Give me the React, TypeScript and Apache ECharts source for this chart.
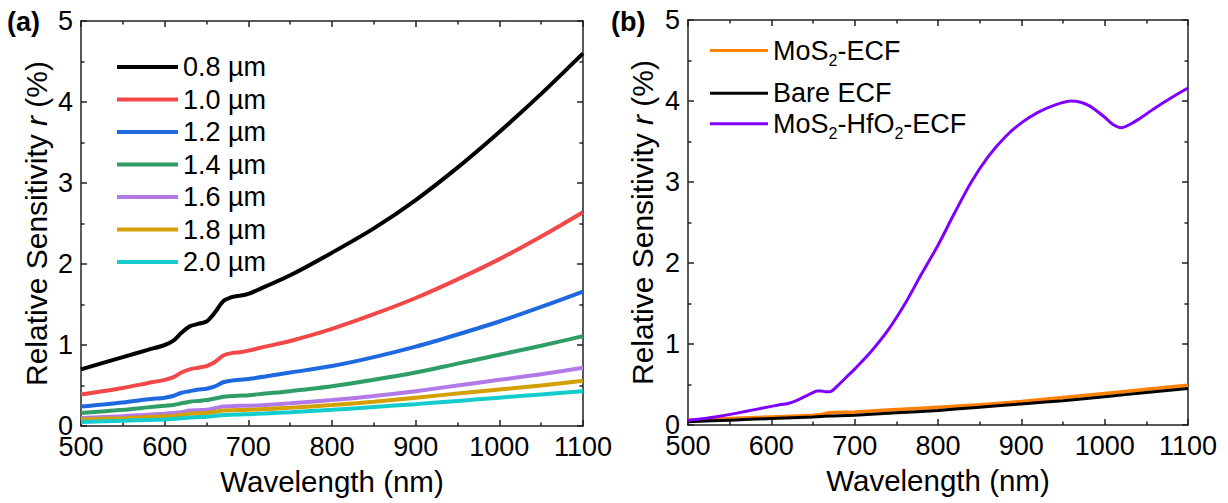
import React, { useEffect, useRef } from 'react';
import * as echarts from 'echarts';

const FONT = '"Liberation Sans", Arial, Helvetica, sans-serif';

// Panel (a): fiber diameter sweep
const wavelengthsA = [500, 550, 580, 600, 610, 620, 630, 640, 650, 660, 670, 680, 690, 700, 720, 750, 800, 850, 900, 950, 1000, 1050, 1100];
const namesA = ['0.8 µm', '1.0 µm', '1.2 µm', '1.4 µm', '1.6 µm', '1.8 µm', '2.0 µm'];
const d08 = [0.70, 0.85, 0.94, 1.00, 1.05, 1.15, 1.23, 1.26, 1.29, 1.40, 1.54, 1.59, 1.61, 1.63, 1.72, 1.86, 2.14, 2.44, 2.79, 3.19, 3.63, 4.10, 4.60];
const d10 = [0.39, 0.47, 0.53, 0.57, 0.60, 0.66, 0.70, 0.72, 0.74, 0.79, 0.87, 0.90, 0.91, 0.93, 0.98, 1.05, 1.20, 1.38, 1.58, 1.81, 2.06, 2.34, 2.64];
const d12 = [0.24, 0.29, 0.33, 0.35, 0.37, 0.41, 0.43, 0.45, 0.46, 0.49, 0.54, 0.56, 0.57, 0.58, 0.61, 0.66, 0.74, 0.85, 0.98, 1.13, 1.29, 1.47, 1.66];
const d14 = [0.16, 0.20, 0.23, 0.25, 0.26, 0.28, 0.30, 0.31, 0.32, 0.34, 0.36, 0.37, 0.375, 0.38, 0.40, 0.43, 0.49, 0.57, 0.66, 0.77, 0.88, 0.99, 1.11];
const d16 = [0.10, 0.12, 0.14, 0.15, 0.16, 0.17, 0.19, 0.195, 0.20, 0.22, 0.24, 0.245, 0.25, 0.25, 0.26, 0.28, 0.32, 0.37, 0.43, 0.50, 0.57, 0.64, 0.72];
const d18 = [0.08, 0.095, 0.11, 0.12, 0.125, 0.135, 0.15, 0.155, 0.16, 0.175, 0.19, 0.195, 0.198, 0.20, 0.21, 0.225, 0.26, 0.30, 0.35, 0.40, 0.45, 0.50, 0.56];
const d20 = [0.05, 0.065, 0.075, 0.08, 0.085, 0.095, 0.105, 0.11, 0.115, 0.125, 0.135, 0.14, 0.143, 0.145, 0.155, 0.17, 0.20, 0.235, 0.27, 0.31, 0.35, 0.39, 0.43];
const valuesA = [d08, d10, d12, d14, d16, d18, d20];
const colorsA = ['#000000', '#F24848', '#1F69E0', '#2E9E66', '#B27AE6', '#D4A000', '#14CCCC'];

// Panel (b): coatings
const wavelengthsB = [500, 520, 540, 560, 580, 600, 610, 620, 630, 640, 650, 655, 660, 665, 670, 680, 690, 700, 720, 740, 760, 780, 800, 820, 840, 860, 880, 900, 920, 940, 960, 980, 1000, 1010, 1020, 1030, 1040, 1060, 1080, 1100];
const mos2Hfo2 = [0.06, 0.08, 0.11, 0.15, 0.19, 0.23, 0.25, 0.265, 0.30, 0.35, 0.40, 0.42, 0.42, 0.41, 0.41, 0.49, 0.59, 0.69, 0.91, 1.17, 1.49, 1.86, 2.22, 2.62, 3.00, 3.31, 3.55, 3.73, 3.86, 3.95, 4.00, 3.95, 3.80, 3.71, 3.67, 3.71, 3.77, 3.91, 4.04, 4.16];
const wavelengthsB2 = [500, 550, 600, 650, 660, 670, 700, 750, 800, 850, 900, 950, 1000, 1050, 1100];
const mos2 = [0.06, 0.08, 0.10, 0.12, 0.13, 0.15, 0.16, 0.19, 0.22, 0.25, 0.29, 0.34, 0.39, 0.44, 0.49];
const bare = [0.04, 0.06, 0.08, 0.10, 0.105, 0.11, 0.12, 0.15, 0.18, 0.22, 0.26, 0.30, 0.35, 0.40, 0.45];
const namesB = ['MoS2-ECF', 'Bare ECF', 'MoS2-HfO2-ECF'];
const richNamesB: Record<string, string> = {
  'MoS2-ECF': '{n|MoS}{s|2}{n|-ECF}',
  'Bare ECF': '{n|Bare ECF}',
  'MoS2-HfO2-ECF': '{n|MoS}{s|2}{n|-HfO}{s|2}{n|-ECF}',
};
const colorsB = ['#FF8000', '#000000', '#8000FF'];
const legendCentersB = [55, 97.7, 128.3];

const AX = '#222';

function xAxes(gridIndex: number) {
  const base = {
    type: 'value',
    gridIndex,
    min: 500,
    max: 1100,
    interval: 100,
    axisLine: { show: true, onZero: false, lineStyle: { color: AX, width: 1.5 } },
    axisTick: { show: true, inside: true, length: 6, lineStyle: { color: AX, width: 1.5 } },
    minorTick: { show: true, splitNumber: 2, length: 3.5, lineStyle: { color: AX, width: 1.5 } },
    splitLine: { show: false },
    minorSplitLine: { show: false },
  };
  return [
    {
      ...base,
      position: 'bottom',
      axisLabel: {
        color: '#000',
        fontSize: 27,
        lineHeight: 20,
        fontFamily: FONT,
        margin: 11,
        formatter: (v: number) => String(v),
      },
      name: 'Wavelength (nm)',
      nameLocation: 'middle',
      nameGap: 40,
      nameTextStyle: { color: '#000', fontSize: 29.5, fontFamily: FONT },
    },
    { ...base, position: 'top', axisLabel: { show: false } },
  ];
}

function yAxes(gridIndex: number, nameGap: number) {
  const base = {
    type: 'value',
    gridIndex,
    min: 0,
    max: 5,
    interval: 1,
    axisLine: { show: true, onZero: false, lineStyle: { color: AX, width: 1.5 } },
    axisTick: { show: true, inside: true, length: 6, lineStyle: { color: AX, width: 1.5 } },
    minorTick: { show: true, splitNumber: 2, length: 3.5, lineStyle: { color: AX, width: 1.5 } },
    splitLine: { show: false },
    minorSplitLine: { show: false },
  };
  return [
    {
      ...base,
      position: 'left',
      axisLabel: {
        color: '#000',
        fontSize: 27,
        lineHeight: 20,
        fontFamily: FONT,
        margin: 8,
        formatter: (v: number) => String(v),
      },
      name: '{a|Relative Sensitivity }{i|r}{a| (%)}',
      nameLocation: 'middle',
      nameGap,
      nameTextStyle: {
        color: '#000',
        fontSize: 30,
        fontFamily: FONT,
        rich: {
          a: { color: '#000', fontSize: 30, fontFamily: FONT },
          i: { color: '#000', fontSize: 30, fontFamily: FONT, fontStyle: 'italic' },
        },
      },
    },
    { ...base, position: 'right', axisLabel: { show: false } },
  ];
}

export default function App() {
  const ref = useRef<HTMLDivElement>(null);

  useEffect(() => {
    if (!ref.current) return;
    const chart = echarts.init(ref.current, null, { renderer: 'svg' });

    const seriesA = namesA.map((name, k) => ({
      name,
      type: 'line',
      xAxisIndex: 0,
      yAxisIndex: 0,
      data: wavelengthsA.map((w, i) => [w, valuesA[k][i]]),
      showSymbol: false,
      symbol: 'none',
      smooth: 0.3,
      lineStyle: { width: 4, color: colorsA[k] },
      itemStyle: { color: colorsA[k] },
      z: 2 + k,
    }));

    const seriesB = [
      { name: namesB[0], xs: wavelengthsB2, ys: mos2, color: colorsB[0], width: 3.5 },
      { name: namesB[1], xs: wavelengthsB2, ys: bare, color: colorsB[1], width: 3 },
      { name: namesB[2], xs: wavelengthsB, ys: mos2Hfo2, color: colorsB[2], width: 3 },
    ].map((s, k) => ({
      name: s.name,
      type: 'line',
      xAxisIndex: 2,
      yAxisIndex: 2,
      data: s.xs.map((w, i) => [w, s.ys[i]]),
      showSymbol: false,
      symbol: 'none',
      smooth: 0.3,
      lineStyle: { width: s.width, color: s.color },
      itemStyle: { color: s.color },
      z: 2 + k,
    }));

    const legendsB = namesB.map((name, k) => ({
      data: [name],
      orient: 'vertical',
      left: 710,
      top: legendCentersB[k] - 18,
      padding: 0,
      itemWidth: 58,
      itemHeight: 3,
      icon: 'rect',
      selectedMode: false,
      formatter: (n: string) => richNamesB[n],
      textStyle: {
        color: '#000',
        fontSize: 27,
        fontFamily: FONT,
        rich: {
          n: { color: '#000', fontSize: 27, fontFamily: FONT, lineHeight: 36 },
          s: { color: '#000', fontSize: 16, fontFamily: FONT, lineHeight: 8, verticalAlign: 'bottom' },
        },
      },
    }));

    chart.setOption({
      animation: false,
      backgroundColor: '#fff',
      grid: [
        { left: 81, top: 21, width: 502, height: 405, containLabel: false },
        { left: 688, top: 20, width: 500, height: 405, containLabel: false },
      ],
      xAxis: [...xAxes(0), ...xAxes(1)],
      yAxis: [...yAxes(0, 30), ...yAxes(1, 31)],
      legend: [
        {
          data: namesA,
          orient: 'vertical',
          left: 117,
          top: 53,
          padding: 0,
          itemWidth: 61,
          itemHeight: 4,
          itemGap: 4.5,
          icon: 'rect',
          selectedMode: false,
          textStyle: { color: '#000', fontSize: 27, lineHeight: 28, fontFamily: FONT },
        },
        ...legendsB,
      ],
      graphic: [
        { type: 'text', left: 7, top: 8, style: { text: '(a)', fontSize: 27, fontWeight: 'bold', fontFamily: FONT, fill: '#000' } },
        { type: 'text', left: 611, top: 8, style: { text: '(b)', fontSize: 27, fontWeight: 'bold', fontFamily: FONT, fill: '#000' } },
      ],
      series: [...seriesA, ...seriesB],
    });

    return () => chart.dispose();
  }, []);

  return (
    <div
      ref={ref}
      style={{ position: 'fixed', left: 0, top: 0, width: 1228, height: 503, background: '#fff' }}
    />
  );
}
